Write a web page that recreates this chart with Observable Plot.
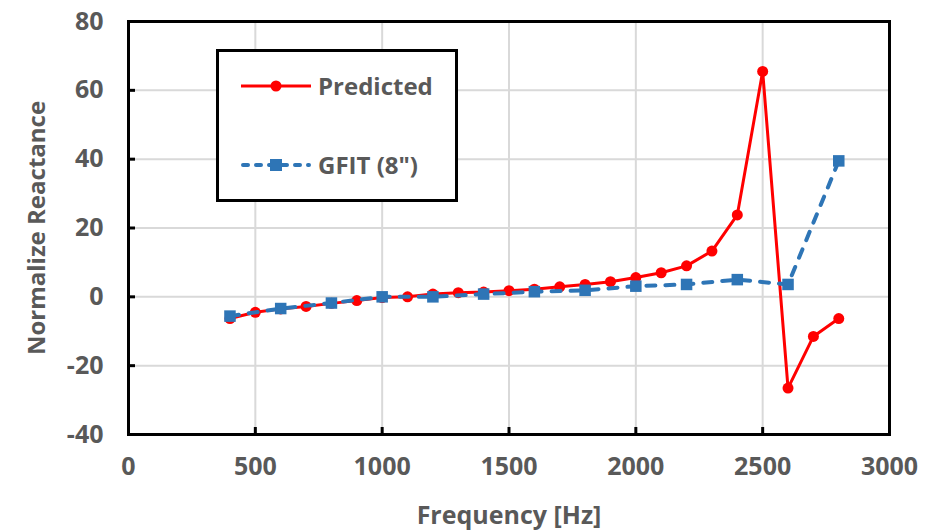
<!DOCTYPE html>
<html>
<head>
<meta charset="utf-8">
<script src="https://cdn.jsdelivr.net/npm/d3@7"></script>
<script src="https://cdn.jsdelivr.net/npm/@observablehq/plot@0.6"></script>
<style>
  html, body { margin: 0; padding: 0; background: #fff; }
  #wrap { position: relative; width: 937px; height: 532px; font-family: "Open Sans", "Liberation Sans", sans-serif; }
  #legend { position: absolute; left: 216px; top: 49px; width: 236px; height: 147px; border: 3px solid #000; background: #fff; }
  .entry { position: absolute; left: 20px; display: flex; align-items: center; font-weight: bold; font-size: 24px; color: #595959; }
  .entry svg { margin-right: 5px; }
</style>
</head>
<body>
<div id="wrap"></div>
<script>
const predFreq = [400, 500, 600, 700, 800, 900, 1000, 1100, 1200, 1300, 1400, 1500, 1600, 1700, 1800, 1900, 2000, 2100, 2200, 2300, 2400, 2500, 2600, 2700, 2800];
const predVal  = [-6.3, -4.5, -3.5, -2.8, -1.9, -1.1, -0.2, 0.0, 0.8, 1.2, 1.4, 1.8, 2.2, 2.9, 3.6, 4.4, 5.6, 7.0, 9.0, 13.3, 23.8, 65.5, -26.5, -11.5, -6.3];
const gfitFreq = [400, 600, 800, 1000, 1200, 1400, 1600, 1800, 2000, 2200, 2400, 2600, 2800];
const gfitVal  = [-5.6, -3.4, -1.8, 0.0, 0.0, 0.8, 1.5, 1.9, 3.1, 3.6, 5.0, 3.6, 39.5];
const xTicks = [0, 500, 1000, 1500, 2000, 2500, 3000];
const yTicks = [-40, -20, 0, 20, 40, 60, 80];
const seriesNames = ["Predicted", "GFIT (8\")"];
const seriesColors = ["#ff0000", "#2e75b6"];

const pred = predFreq.map((f, i) => ({f, v: predVal[i]}));
const gfit = gfitFreq.map((f, i) => ({f, v: gfitVal[i]}));

const textColor = "#595959";

const chart = Plot.plot({
  width: 937,
  height: 532,
  marginLeft: 128,
  marginRight: 48,
  marginTop: 21,
  marginBottom: 98,
  style: {fontFamily: "'Open Sans', 'Liberation Sans', sans-serif", fontSize: "24px", fontWeight: "bold", color: textColor, background: "white"},
  x: {domain: [0, 3000]},
  y: {domain: [-40, 80]},
  marks: [
    Plot.gridX(xTicks, {stroke: "#d9d9d9", strokeOpacity: 1, strokeWidth: 2}),
    Plot.gridY(yTicks, {stroke: "#d9d9d9", strokeOpacity: 1, strokeWidth: 2}),
    Plot.axisX(xTicks, {tickSize: 0, tickPadding: 23, label: null, fill: textColor, fontWeight: "bold", fontSize: 25, tickFormat: d => String(d)}),
    Plot.axisY(yTicks, {tickSize: 0, tickPadding: 25, label: null, fill: textColor, fontWeight: "bold", fontSize: 25, tickFormat: d => String(d)}),
    Plot.tickY(yTicks, {y: d => d, stroke: "#000", strokeWidth: 3, insetRight: 754}),
    Plot.tickX(xTicks, {x: d => d, stroke: "#000", strokeWidth: 3, insetTop: 406}),
    Plot.text(["Frequency [Hz]"], {frameAnchor: "bottom", dy: 89, fill: textColor, fontWeight: "bold", fontSize: 25}),
    Plot.text(["Normalize Reactance"], {frameAnchor: "left", dx: -91, rotate: -90, textAnchor: "middle", fill: textColor, fontWeight: "bold", fontSize: 24}),
    Plot.line(pred, {x: "f", y: "v", stroke: seriesColors[0], strokeWidth: 3}),
    Plot.dot(pred, {x: "f", y: "v", fill: seriesColors[0], r: 5.5, stroke: "none"}),
    Plot.line(gfit, {x: "f", y: "v", stroke: seriesColors[1], strokeWidth: 4, strokeDasharray: "9,10", strokeLinecap: "round"}),
    Plot.dot(gfit, {x: "f", y: "v", fill: seriesColors[1], symbol: "square", r: 6.5, stroke: "none"}),
    Plot.frame({stroke: "#000", strokeWidth: 3})
  ]
});

const wrap = document.getElementById("wrap");
wrap.appendChild(chart);

const legend = document.createElement("div");
legend.id = "legend";
const entries = [
  {name: seriesNames[0], color: seriesColors[0], top: 17,
   sym: `<line x1="2" y1="12" x2="72" y2="12" stroke="${seriesColors[0]}" stroke-width="3"/><circle cx="37" cy="12" r="5.5" fill="${seriesColors[0]}"/>`},
  {name: seriesNames[1], color: seriesColors[1], top: 96,
   sym: `<line x1="4" y1="12" x2="70" y2="12" stroke="${seriesColors[1]}" stroke-width="4" stroke-dasharray="5,8" stroke-linecap="round"/><rect x="31" y="6" width="12" height="12" fill="${seriesColors[1]}"/>`}
];
for (const e of entries) {
  const d = document.createElement("div");
  d.className = "entry";
  d.style.top = e.top + "px";
  d.innerHTML = `<svg width="74" height="24">${e.sym}</svg><span>${e.name}</span>`;
  legend.appendChild(d);
}
wrap.appendChild(legend);
</script>
</body>
</html>
